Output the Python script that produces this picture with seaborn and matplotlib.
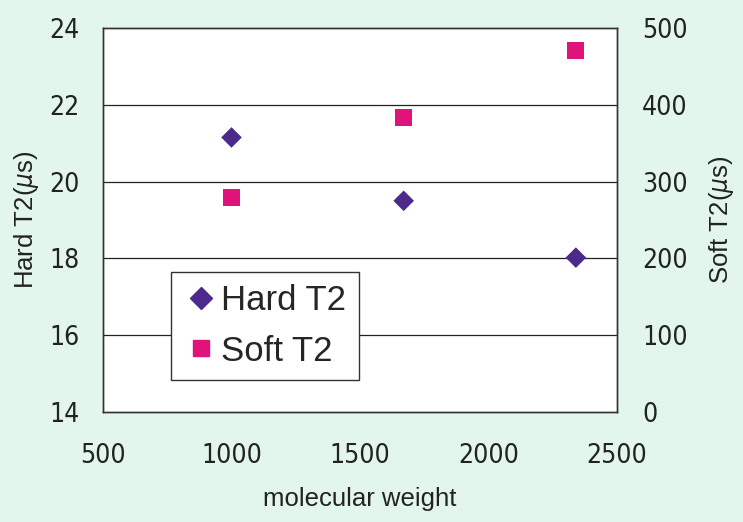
import matplotlib
matplotlib.use("Agg")
import matplotlib.pyplot as plt
import seaborn as sns
import pandas as pd
from matplotlib.lines import Line2D

mw = [1000, 1670, 2340]
hard_t2 = [21.15, 19.5, 18.02]
soft_t2 = [279, 384, 471]
x_ticks = [500, 1000, 1500, 2000, 2500]
left_ticks = [14, 16, 18, 20, 22, 24]
right_ticks = [0, 100, 200, 300, 400, 500]

sns.set_theme(style="white")
plt.rcParams["font.family"] = ["DejaVu Sans"]
plt.rcParams["font.stretch"] = "condensed"

bg = "#e2f6ec"
fig = plt.figure(figsize=(7.43, 5.22), dpi=100, facecolor=bg)
ax = fig.add_axes([103/743, 1-412/522, (617-103)/743, (412-28)/522])
ax.set_facecolor("white")

df = pd.DataFrame({"mw": mw, "hard": hard_t2, "soft": soft_t2})
sns.scatterplot(data=df, x="mw", y="hard", ax=ax, marker="D", s=110,
                color="#4b2a8c", edgecolor="none", zorder=5)
ax2 = ax.twinx()
sns.scatterplot(data=df, x="mw", y="soft", ax=ax2, marker="s", s=150,
                color="#e0137a", edgecolor="none", zorder=5)

ax.set_xlim(500, 2500)
ax.set_ylim(14, 24)
ax2.set_ylim(0, 500)
ax.set_xticks(x_ticks)
ax.set_yticks(left_ticks)
ax2.set_yticks(right_ticks)
for y in left_ticks[1:-1]:
    ax.axhline(y, color="#222222", lw=0.9, zorder=1)

ax.tick_params(axis="x", direction="in", length=6, width=0.8, color="#333333",
               labelsize=19, pad=22, labelcolor="#222222")
ax.tick_params(axis="y", length=0, labelsize=19, pad=17, labelcolor="#222222")
ax2.tick_params(axis="y", length=0, labelsize=19, pad=18, labelcolor="#222222")
for a in (ax, ax2):
    for s in a.spines.values():
        s.set_color("#333333")
        s.set_linewidth(1.0)

lab = dict(family=["Liberation Sans", "DejaVu Sans"], color="#222222", stretch="normal")
ax.set_xlabel("molecular weight", fontsize=18.5, labelpad=13, **lab)
ax.set_ylabel("Hard T2($\\mu$s)", fontsize=18.5, labelpad=6, **lab)
ax2.set_ylabel("Soft T2($\\mu$s)", fontsize=18.5, labelpad=14, **lab)

handles = [Line2D([], [], marker="D", color="#4b2a8c", ls="none", markersize=11),
           Line2D([], [], marker="s", color="#e0137a", ls="none", markersize=12)]
leg = ax.legend(handles, ["Hard T2", "Soft T2"], loc="upper left",
                bbox_to_anchor=((171-103)/514, (412-272)/384),
                prop={"family": ["Liberation Sans", "DejaVu Sans"], "size": 25},
                frameon=True, fancybox=False, framealpha=1, edgecolor="#333333",
                handletextpad=0.1, handlelength=1.0, borderpad=0.35, labelspacing=0.5,
                borderaxespad=0)
leg.get_frame().set_linewidth(1.0)
leg.set_zorder(10)

fig.savefig("out.png", dpi=100, facecolor=bg)
